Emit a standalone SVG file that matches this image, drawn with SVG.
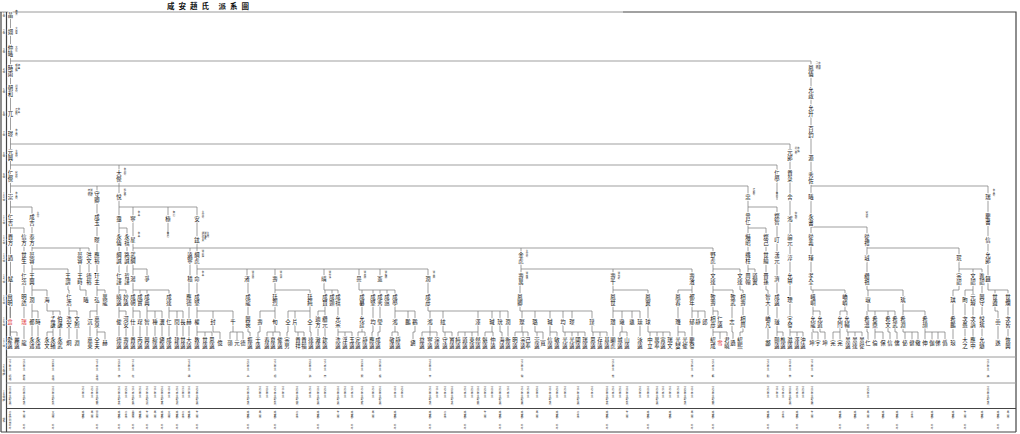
<svg xmlns="http://www.w3.org/2000/svg" width="1020" height="434" viewBox="0 0 1020 434">
<style>
text{font-family:"Noto Sans CJK TC","Noto Sans CJK SC",sans-serif}
.n{font-size:5.4px;writing-mode:vertical-rl;text-anchor:middle;fill:#111;letter-spacing:0.4px;stroke:#fff;stroke-width:1.5px;paint-order:stroke}
.r{fill:#e03030}
.a{font-size:2.4px;writing-mode:vertical-rl;fill:#333}
.g{font-size:2.8px;writing-mode:vertical-rl;text-orientation:upright;text-anchor:middle;fill:#333}
.c{font-size:2.6px;writing-mode:vertical-rl;fill:#333}
.l{fill:none;stroke:#777;stroke-width:0.7}
.f{fill:none;stroke:#444;stroke-width:1.2}
.h{fill:none;stroke:#9a9a9a;stroke-width:1}
.t{font-size:7.5px;font-weight:bold;fill:#111;letter-spacing:4px;text-anchor:middle}
</style>
<rect width="1020" height="434" fill="#fff"/>
<g opacity="0.999">
<text class="t" x="210" y="9">咸安趙氏 派系圖</text>
<g id="frame">
<path class="h" d="M0 12H623"/>
<path class="f" d="M623 12H1016V432M1 12V432M6.5 12V432M1 432H1016"/>
<path class="h" d="M6.5 357H1016M6.5 383H1016"/>
<path class="f" d="M6.5 408.5H1016" stroke="#888"/>
</g>
<g id="gen-labels">
<text class="g" x="3.8" y="15">1世</text><text class="g" x="3.8" y="32">2世</text><text class="g" x="3.8" y="51">3世</text><text class="g" x="3.8" y="71">4世</text><text class="g" x="3.8" y="91">5世</text><text class="g" x="3.8" y="114">6世</text><text class="g" x="3.8" y="134">7世</text><text class="g" x="3.8" y="155">8世</text><text class="g" x="3.8" y="176">9世</text><text class="g" x="3.8" y="197">10世</text><text class="g" x="3.8" y="220">11世</text><text class="g" x="3.8" y="240">12世</text><text class="g" x="3.8" y="258">13世</text><text class="g" x="3.8" y="279">14世</text><text class="g" x="3.8" y="300">15世</text><text class="g" x="3.8" y="322">16世</text><text class="g" x="3.8" y="343">17世</text>
<text class="g" x="3.8" y="370">22世諱</text><text class="g" x="3.8" y="396">19世諱</text><text class="g" x="3.8" y="420">世系</text>
</g>
<g id="connectors" class="l">
<path d="M10.5 13V343M10.5 61H811V279M10.5 144H790V279M10.5 165H777V200M10.5 186H748V279M811 186H988V279M811 227H867V279M867 248H959V279M959 269H982V279M973 269V279M748 207H777V279M748 228H766V279M748 269H755V279"/>
<path d="M119 165V279M10.5 207H32V279M10.5 228H24V279M97 186V279M119 207H197V279M133 207V279M168 207V236M119 228H127V279M32 248H89V279M80 248V279M133 248H713V279M190 248V279M521 248V279M32 269H68V279M133 269H147V279M197 269H428V279M247 269V279M275 269V279M324 269V279M359 269V279M380 269V279M521 269H692V279M613 269V279M713 269H740V279"/>
<path d="M10 279V300M24 279V300M32 279V300M32 290H47V300M68 279V290H69V300M80 279V290H86V300M97 279V300M97 290H105V300M119 279V300M119 290H126V300M133 279V300M133 290H169M140 290V300M147 290V300M169 290V300M189 279V300M197 279V300M248 279V300M275 279V300M275 290H310V300M324 279V290H338M325 290V300M332 290V300M338 290V300M359 279V290H395M362 290V300M373 290V300M380 290V300M387 290V300M395 290V300M428 279V300M520 279V300M613 279V300M613 290H648V300M692 279V300M678 290H692M678 290V300M713 279V300M713 290H733V300M740 279V290H743V300M766 279V290H768V300M777 279V300M790 279V300M811 279V290H845V300M813 290V300M867 279V290H903V300M868 290V300M959 279V290H953V300M973 279V300M965 290H973M965 290V300M982 279V300M988 279V290H1008V300M995 290V300"/>
<path d="M10 300V322M24 300V322M32 300V322M32 311H38V322M47 300V311H60V322M53 311V322M69 300V322M69 311H77V322M97 300V322M90 311H97M90 311V322M119 300V322M119 311H126V322M133 300V322M133 311H140V322M147 300V322M147 311H162V322M155 311V322M169 300V322M169 311H183V322M177 311V322M189 300V322M197 300V322M197 311H233V322M213 311V322M248 300V322M275 300V322M260 311H275M260 311V322M310 300V322M288 311H310M288 311V322M295 311V322M325 300V322M318 311H325M318 311V322M338 300V322M362 300V322M373 300V322M380 300V322M395 300V322M395 311H415V322M408 311V322M428 300V311H508V322M430 311V322M443 311V322M478 311V322M492 311V322M500 311V322M520 300V311H592V322M522 311V322M535 311V322M550 311V322M563 311V322M572 311V322M613 300V322M613 311H640V322M622 311V322M632 311V322M648 300V322M678 300V322M692 300V322M692 311H705V322M698 311V322M713 300V322M713 311H718V322M732 300V322M743 300V322M768 300V322M777 300V322M790 300V322M813 300V322M813 311H820V322M845 300V311M840 311H847M840 311V322M847 311V322M868 300V311H895V322M867 311V322M875 311V322M888 311V322M903 300V322M903 311H925V322M953 300V322M965 300V322M973 300V322M982 300V322M995 300V311H998V322M1008 300V322"/>
<path d="M10 322V343M10 332H17V343M24 322V343M32 322V343M38 322V343M53 322V343M47 332H53M47 332V343M60 322V343M69 322V343M77 322V343M90 322V343M97 322V343M97 332H105V343M119 322V343M126 322V343M133 322V343M140 322V343M147 322V343M155 322V343M162 322V343M169 322V343M177 322V343M183 322V343M189 322V343M197 322V343M197 332H212V343M205 332V343M213 322V332H220V343M233 322V332M230 332H243M230 332V343M237 332V343M243 332V343M248 322V332H250V343M260 322V332H258V343M275 322V332M267 332H280M267 332V343M273 332V343M280 332V343M288 322V332H287V343M295 322V332H304M298 332V343M304 332V343M310 322V332H311V343M318 322V343M325 322V343M338 322V343M338 332H352V343M345 332V343M362 322V332M358 332H365M358 332V343M365 332V343M373 322V332H372V343M380 322V332H378V343M395 322V332M392 332H398M392 332V343M398 332V343M415 322V332H413V343M430 322V343M422 332H437M422 332V343M437 332V343M443 322V332H452M445 332V343M452 332V343M478 322V343M458 332H478M458 332V343M465 332V343M472 332V343M492 322V332M485 332H493M485 332V343M493 332V343M500 322V332H502V343M508 322V343"/>
<path d="M522 322V332M515 332H528M515 332V343M523 332V343M528 332V343M535 322V332H543M537 332V343M543 332V343M550 322V343M550 332H557V343M563 322V332H585M565 332V343M572 332V343M578 332V343M585 332V343M592 322V332H607M593 332V343M600 332V343M607 332V343M613 322V343M622 322V332M620 332H627M620 332V343M627 332V343M640 322V343M648 322V332H670M650 332V343M657 332V343M663 332V343M670 332V343M678 322V343M678 332H685V343M692 322V343M713 322V343M713 332H727V343M720 332V343M732 322V332H733V343M743 322V332H740V343M768 322V343M777 322V343M777 332H783V343M790 322V343M790 332H803V343M797 332V343M813 322V332H818V343M812 332V343M820 322V332H825V343M840 322V343M833 332H840M833 332V343M847 322V332H862M848 332V343M855 332V343M862 332V343M867 322V332H868V343M875 322V343M875 332H883V343M888 322V332H890V343M895 322V332H897V343M903 322V332H918M905 332V343M912 332V343M918 332V343M925 322V343M925 332H945V343M932 332V343M938 332V343M953 322V343M965 322V343M973 322V343M982 322V343M998 322V343M1008 322V343"/>
</g>
<g id="nodes-upper">
<text class="n" x="10.5" y="15">晶</text><text class="n" x="10.5" y="32">翊</text><text class="n" x="10.5" y="51">仲曦</text><text class="n" x="10.5" y="71">時雨</text><text class="n" x="10.5" y="91">朝和</text><text class="n" x="10.5" y="114">兀</text><text class="n" x="10.5" y="134">璟</text><text class="n" x="10.5" y="155">元興</text><text class="n" x="10.5" y="176">仁傑</text><text class="n" x="10.5" y="197">崇</text><text class="n" x="10.5" y="220">仁吉</text><text class="n" x="10.5" y="240">貴方</text><text class="n" x="10.5" y="258">迺</text><text class="n" x="10.5" y="279">斌</text>
<text class="a" x="16.5" y="10">典書</text><text class="a" x="16.5" y="27">大將軍</text><text class="a" x="16.5" y="46">大匡</text><text class="a" x="16.5" y="64">都評議</text><text class="a" x="19" y="64">使事</text><text class="a" x="16.5" y="85">判書公</text><text class="a" x="16.5" y="108">正郞公</text><text class="a" x="19" y="108">參奉</text><text class="a" x="16.5" y="129">參奉公</text><text class="a" x="16.5" y="150">生員公</text><text class="a" x="16.5" y="171">察訪公</text><text class="a" x="16.5" y="192">參奉公</text>
<text class="n" x="811" y="71">鳳儀</text><text class="n" x="811" y="93">允政</text><text class="n" x="811" y="111">允升</text><text class="n" x="811" y="132">百鈞</text><text class="n" x="811" y="158">源</text><text class="n" x="811" y="178">秀佐</text><text class="n" x="811" y="197">曦</text><text class="n" x="811" y="220">永書</text><text class="n" x="811" y="240">從義</text><text class="n" x="811" y="258">瑾</text><text class="n" x="811" y="279">孝全</text>
<text class="a" x="817" y="62">司諫公</text><text class="a" x="819.5" y="62">字瑞卿</text>
<text class="n" x="790" y="155">元郞</text><text class="n" x="790" y="176">貴彔</text><text class="n" x="790" y="197">舍</text><text class="n" x="790" y="219">鴻</text><text class="n" x="790" y="240">論元</text><text class="n" x="790" y="258">淳</text><text class="n" x="790" y="279">允甲</text>
<text class="a" x="796" y="147">判官公</text><text class="a" x="798.5" y="147">參議</text><text class="a" x="796" y="212">僉知公</text>
<text class="n" x="777" y="176">仁學</text><text class="a" x="777" y="192">無后</text>
<text class="n" x="988" y="197">瑞</text><text class="n" x="988" y="219">慶書</text><text class="n" x="988" y="240">信</text><text class="n" x="988" y="258">允郞</text><text class="n" x="988" y="279">鐵</text><text class="a" x="994" y="189">參奉公</text>
<text class="a" x="867" y="211">察訪公</text><text class="n" x="867" y="240">從禮</text><text class="n" x="867" y="258">珬</text><text class="n" x="867" y="279">纘祖</text>
<text class="n" x="959" y="258">珉</text><text class="n" x="959" y="279">宗韶</text><text class="n" x="973" y="279">文韶</text><text class="n" x="982" y="279">進韶</text>
<text class="n" x="748" y="197">忠</text><text class="a" x="754" y="188">正郞公</text><text class="n" x="748" y="219">曾仁</text><text class="n" x="748" y="240">爀昭</text><text class="n" x="748" y="258">纖柱</text><text class="n" x="748" y="279">周翰</text><text class="n" x="755" y="279">道翼</text>
<text class="n" x="777" y="219">燦智</text><text class="n" x="777" y="240">叮</text><text class="n" x="777" y="258">漢元</text><text class="n" x="777" y="279">濟</text>
<text class="n" x="766" y="240">燦己</text><text class="n" x="766" y="258">世綸</text><text class="n" x="766" y="279">晋孫</text>
<text class="n" x="521" y="258">金虎</text><text class="a" x="527" y="250">主簿公</text><text class="n" x="521" y="279">壽萬</text><text class="a" x="527" y="272">號晩休</text><text class="n" x="613" y="279">壽千</text><text class="a" x="619" y="272">號竹軒</text><text class="n" x="692" y="279">壽濱</text><text class="n" x="713" y="258">野虎</text><text class="n" x="713" y="279">文達</text><text class="n" x="740" y="279">文達</text>
<text class="n" x="119" y="176">大傑</text><text class="a" x="125" y="168">參判公</text><text class="n" x="119" y="197">悅</text><text class="a" x="125" y="189">縣監公</text><text class="n" x="97" y="197">守卿</text><text class="a" x="89" y="189">府使公</text><text class="a" x="91.5" y="189">號梅軒</text>
<text class="n" x="32" y="220">成吉</text><text class="a" x="38" y="212">主簿</text><text class="n" x="97" y="220">成玉</text><text class="n" x="119" y="219">靄</text><text class="n" x="133" y="219">寧</text><text class="a" x="139" y="211">參奉</text><text class="n" x="168" y="219">極</text><text class="a" x="174" y="211">無后</text><text class="n" x="197" y="219">安</text><text class="a" x="203" y="211">主簿公</text>
<text class="n" x="24" y="240">信方</text><text class="n" x="32" y="240">泰方</text><text class="n" x="97" y="240">暻</text><text class="n" x="119" y="240">永儀</text><text class="n" x="127" y="240">永禧</text><text class="n" x="133" y="240">星</text><text class="a" x="139" y="232">參奉</text><text class="a" x="168" y="232">無后</text><text class="n" x="197" y="240">鉉</text><text class="a" x="203" y="232">通政大夫</text><text class="a" x="205.5" y="232">號龜巖</text><text class="a" x="208" y="232">生員</text>
<text class="n" x="24" y="258">世生</text><text class="n" x="32" y="258">蕊容</text><text class="n" x="80" y="258">蕊容</text><text class="n" x="89" y="258">洪文</text><text class="n" x="97" y="258">應裕</text><text class="n" x="119" y="258">綱誠</text><text class="n" x="127" y="258">路誠</text><text class="n" x="133" y="258">武綱</text><text class="n" x="190" y="258">遠寧</text><text class="n" x="197" y="258">綱虎</text><text class="a" x="203" y="250">號松庵</text>
<text class="n" x="24" y="279">仁洽</text><text class="n" x="32" y="279">王興</text><text class="n" x="68" y="279">王謂</text><text class="n" x="80" y="279">王畤</text><text class="n" x="89" y="279">德裕</text><text class="n" x="97" y="279">玕主</text><text class="n" x="119" y="279">仁謹</text><text class="n" x="127" y="279">哲謹</text><text class="n" x="133" y="279">湯</text><text class="n" x="147" y="279">爭</text><text class="n" x="190" y="279">積</text><text class="n" x="197" y="279">命</text><text class="a" x="203" y="271">參奉</text><text class="n" x="247" y="279">渚</text><text class="a" x="253" y="271">號月窩</text>
<text class="n" x="275" y="279">壽</text><text class="a" x="281" y="271">號南湖</text><text class="n" x="324" y="279">晴</text><text class="a" x="330" y="271">號竹溪</text><text class="n" x="359" y="279">曼</text><text class="a" x="365" y="271">號石隱</text><text class="n" x="380" y="279">憲</text><text class="a" x="386" y="271">號梅隱</text><text class="n" x="428" y="279">潤</text><text class="a" x="434" y="271">號東岡</text>
</g>
<g id="nodes-g15">
<text class="n" x="10" y="300">尙明</text><text class="n" x="24" y="300">明誥</text><text class="n" x="32" y="300">潤</text><text class="n" x="47" y="300">海</text><text class="n" x="69" y="300">仁浩</text><text class="n" x="86" y="300">曦</text><text class="n" x="97" y="300">弘</text><text class="n" x="105" y="300">萬龍</text><text class="n" x="119" y="300">曉遠</text><text class="n" x="126" y="300">妙遠</text><text class="n" x="133" y="300">成朝</text><text class="n" x="140" y="300">成實</text><text class="n" x="147" y="300">成典</text><text class="n" x="169" y="300">成達</text><text class="n" x="189" y="300">應德</text><text class="n" x="197" y="300">成堅</text><text class="n" x="248" y="300">成龍</text>
<text class="n" x="275" y="300">廷烈</text><text class="n" x="310" y="300">廷純</text><text class="n" x="325" y="300">成賢</text><text class="n" x="332" y="300">成顥</text><text class="n" x="338" y="300">成禧</text><text class="n" x="362" y="300">成纂</text><text class="n" x="373" y="300">成堅</text><text class="n" x="380" y="300">成秀</text><text class="n" x="387" y="300">成慤</text><text class="n" x="395" y="300">成學</text><text class="n" x="428" y="300">成彦</text>
<text class="n" x="520" y="300">鳳卿</text><text class="n" x="613" y="300">鳳世</text><text class="n" x="648" y="300">鳳翼</text><text class="n" x="678" y="300">鳳春</text><text class="n" x="692" y="300">都年</text><text class="n" x="713" y="300">致壽</text><text class="n" x="733" y="300">致武</text><text class="n" x="743" y="300">相壽</text>
<text class="n" x="768" y="300">智大</text><text class="n" x="777" y="300">成遠</text><text class="n" x="790" y="300">瑮</text><text class="n" x="813" y="300">峨峒</text><text class="n" x="845" y="300">嶠嶙</text><text class="n" x="868" y="300">琡</text><text class="n" x="903" y="300">瑀</text><text class="n" x="953" y="300">琪</text><text class="n" x="965" y="300">昫</text><text class="n" x="973" y="300">元璿</text><text class="n" x="982" y="300">興守</text><text class="n" x="995" y="300">世遵</text><text class="n" x="1008" y="300">世爛</text>
</g>
<g id="nodes-g16">
<text class="n r" x="10" y="322">翕</text><text class="n r" x="24" y="322">瑞</text><text class="n" x="32" y="322">都</text><text class="n" x="38" y="322">時</text><text class="n" x="53" y="322">孟謙</text><text class="n" x="60" y="322">伯謙</text><text class="n" x="69" y="322">浩文</text><text class="n" x="77" y="322">文煦</text><text class="n" x="90" y="322">沉</text><text class="n" x="97" y="322">嘉泉</text><text class="n" x="119" y="322">俊</text><text class="n" x="126" y="322">河安</text><text class="n" x="133" y="322">仕</text><text class="n" x="140" y="322">珵</text><text class="n" x="147" y="322">智</text><text class="n" x="155" y="322">種</text><text class="n" x="162" y="322">瀷</text><text class="n" x="169" y="322">仁</text><text class="n" x="177" y="322">閏</text><text class="n" x="183" y="322">長</text><text class="n" x="189" y="322">赫</text><text class="n" x="197" y="322">權</text><text class="n" x="213" y="322">封</text><text class="n" x="233" y="322">千</text><text class="n" x="248" y="322">興我</text>
<text class="n" x="260" y="322">壽</text><text class="n" x="275" y="322">旬</text><text class="n" x="288" y="322">仝</text><text class="n" x="295" y="322">片</text><text class="n" x="310" y="322">仝</text><text class="n" x="318" y="322">迪方</text><text class="n" x="325" y="322">纘元</text><text class="n" x="338" y="322">允宗</text><text class="n" x="362" y="322">允詮</text><text class="n" x="373" y="322">均</text><text class="n" x="380" y="322">瑩</text><text class="n" x="395" y="322">鴻</text><text class="n" x="408" y="322">鵬</text><text class="n" x="415" y="322">鸐</text><text class="n" x="430" y="322">鴻</text><text class="n" x="443" y="322">絃</text><text class="n" x="478" y="322">澤</text><text class="n" x="492" y="322">瑊</text><text class="n" x="500" y="322">玧</text><text class="n" x="508" y="322">潤</text>
<text class="n" x="522" y="322">璨</text><text class="n" x="535" y="322">璐</text><text class="n" x="550" y="322">瑊</text><text class="n" x="563" y="322">均</text><text class="n" x="572" y="322">璟</text><text class="n" x="592" y="322">璞</text><text class="n" x="613" y="322">瓚</text><text class="n" x="622" y="322">璥</text><text class="n" x="632" y="322">璡</text><text class="n" x="640" y="322">璪</text><text class="n" x="648" y="322">球</text><text class="n" x="678" y="322">璣</text><text class="n" x="692" y="322">郁</text><text class="n" x="698" y="322">靜</text><text class="n" x="705" y="322">郎</text><text class="n" x="713" y="322">相彦</text><text class="n" x="720" y="322">仁遠</text><text class="n" x="732" y="322">志</text><text class="n" x="743" y="322">相周</text>
<text class="n" x="768" y="322">嶠凡</text><text class="n" x="777" y="322">璲</text><text class="n" x="790" y="322">宇發</text><text class="n" x="813" y="322">允龍</text><text class="n" x="820" y="322">允道</text><text class="n" x="840" y="322">允門</text><text class="n" x="847" y="322">允輔</text><text class="n" x="867" y="322">希溫</text><text class="n" x="875" y="322">希鼎</text><text class="n" x="888" y="322">希文</text><text class="n" x="895" y="322">希武</text><text class="n" x="903" y="322">希淵</text><text class="n" x="925" y="322">希頡</text><text class="n" x="953" y="322">希鵬</text><text class="n" x="965" y="322">次愚</text><text class="n" x="973" y="322">次訥</text><text class="n" x="982" y="322">悅瑀</text><text class="n" x="998" y="322">嵒</text><text class="n" x="1008" y="322">次皆</text>
</g>
<g id="nodes-g17">
<text class="n" x="10" y="343">愛遠</text><text class="n" x="17" y="343">麗遠</text><text class="n" x="24" y="343">龍</text><text class="n" x="32" y="343">永述</text><text class="n" x="38" y="343">永述</text><text class="n" x="47" y="343">永文</text><text class="n" x="53" y="343">永緒</text><text class="n" x="60" y="343">永武</text><text class="n" x="69" y="343">炯</text><text class="n" x="77" y="343">淵</text><text class="n" x="90" y="343">嘉東</text><text class="n" x="97" y="343">仝夫</text><text class="n" x="105" y="343">赫</text><text class="n" x="119" y="343">德遠</text><text class="n" x="126" y="343">壽遠</text><text class="n" x="133" y="343">貴遠</text><text class="n" x="140" y="343">丙遠</text><text class="n" x="147" y="343">興遠</text><text class="n" x="155" y="343">緯遠</text><text class="n" x="162" y="343">鎭遠</text><text class="n" x="169" y="343">成遠</text><text class="n" x="177" y="343">建遠</text><text class="n" x="183" y="343">世遠</text><text class="n" x="189" y="343">大遠</text><text class="n" x="197" y="343">教遠</text><text class="n" x="205" y="343">世遠</text><text class="n" x="212" y="343">思遠</text><text class="n" x="220" y="343">億</text><text class="n" x="230" y="343">嶺</text><text class="n" x="237" y="343">元</text><text class="n" x="243" y="343">德</text><text class="n" x="250" y="343">振遠</text>
<text class="n" x="258" y="343">壬遠</text><text class="n" x="267" y="343">春遠</text><text class="n" x="273" y="343">夏遠</text><text class="n" x="280" y="343">俊遠</text><text class="n" x="287" y="343">宗男</text><text class="n" x="298" y="343">貴祥</text><text class="n" x="304" y="343">貴福</text><text class="n" x="311" y="343">達遠</text><text class="n" x="318" y="343">澈遠</text><text class="n" x="325" y="343">欽遠</text><text class="n" x="338" y="343">洗遠</text><text class="n" x="345" y="343">浮遠</text><text class="n" x="352" y="343">玉遠</text><text class="n" x="358" y="343">定遠</text><text class="n" x="365" y="343">靜遠</text><text class="n" x="372" y="343">應遠</text><text class="n" x="378" y="343">成遠</text><text class="n" x="392" y="343">敬遠</text><text class="n" x="398" y="343">靜遠</text><text class="n" x="413" y="343">鎭</text><text class="n" x="422" y="343">益遠</text><text class="n" x="430" y="343">寧遠</text><text class="n" x="437" y="343">淙遠</text><text class="n" x="445" y="343">守遠</text><text class="n" x="452" y="343">寶遠</text><text class="n" x="458" y="343">純遠</text><text class="n" x="465" y="343">道遠</text><text class="n" x="472" y="343">東遠</text><text class="n" x="478" y="343">然遠</text><text class="n" x="485" y="343">魁遠</text><text class="n" x="493" y="343">仲遠</text><text class="n" x="502" y="343">海遠</text><text class="n" x="508" y="343">衡遠</text>
<text class="n" x="515" y="343">明遠</text><text class="n" x="523" y="343">宗遠</text><text class="n" x="528" y="343">己奉</text><text class="n" x="537" y="343">崇遠</text><text class="n" x="543" y="343">寬</text><text class="n" x="550" y="343">信遠</text><text class="n" x="557" y="343">敏遠</text><text class="n" x="565" y="343">光遠</text><text class="n" x="572" y="343">光遠</text><text class="n" x="578" y="343">國遠</text><text class="n" x="585" y="343">瑞遠</text><text class="n" x="593" y="343">思遠</text><text class="n" x="600" y="343">存遠</text><text class="n" x="607" y="343">基遠</text><text class="n" x="613" y="343">顯虎</text><text class="n" x="620" y="343">城遠</text><text class="n" x="627" y="343">山遠</text><text class="n" x="640" y="343">泳遠</text><text class="n" x="650" y="343">中立</text><text class="n" x="657" y="343">萬奉</text><text class="n" x="663" y="343">寅遠</text><text class="n" x="670" y="343">瑞文</text><text class="n" x="678" y="343">光燮</text><text class="n" x="685" y="343">光俊</text><text class="n" x="692" y="343">慶發</text><text class="n" x="713" y="343">紹成</text><text class="n r" x="720" y="343">雪</text><text class="n" x="727" y="343">君曉</text><text class="n" x="733" y="343">遜</text><text class="n" x="740" y="343">紹熙</text>
<text class="n" x="768" y="343">酃</text><text class="n" x="777" y="343">頤遠</text><text class="n" x="783" y="343">樵遠</text><text class="n" x="790" y="343">滋遠</text><text class="n" x="797" y="343">澤遠</text><text class="n" x="803" y="343">沖遠</text><text class="n" x="812" y="343">坤</text><text class="n" x="818" y="343">宇</text><text class="n" x="825" y="343">坤</text><text class="n" x="833" y="343">完</text><text class="n" x="840" y="343">完</text><text class="n" x="848" y="343">景遠</text><text class="n" x="855" y="343">景達</text><text class="n" x="862" y="343">景從</text><text class="n" x="868" y="343">仁</text><text class="n" x="875" y="343">倫</text><text class="n" x="883" y="343">保</text><text class="n" x="890" y="343">信</text><text class="n" x="897" y="343">儒</text><text class="n" x="905" y="343">佖</text><text class="n" x="912" y="343">健</text><text class="n" x="918" y="343">儆</text><text class="n" x="925" y="343">伸</text><text class="n" x="932" y="343">伽</text><text class="n" x="938" y="343">俤</text><text class="n" x="945" y="343">僞</text><text class="n" x="953" y="343">琅</text><text class="n" x="965" y="343">大之</text><text class="n" x="973" y="343">應中</text><text class="n" x="982" y="343">允燧</text><text class="n" x="998" y="343">遂</text><text class="n" x="1008" y="343">恢興</text>
</g>
<g id="table">
<text class="c" x="10" y="359">1946年生</text><text class="c" x="24" y="359">1951年生</text><text class="c" x="53" y="359">1938年生</text><text class="c" x="97" y="359">1944年生</text><text class="c" x="119" y="359">1955年生</text><text class="c" x="133" y="359">1960年生</text><text class="c" x="189" y="359">1949年生</text><text class="c" x="248" y="359">1952年生</text><text class="c" x="275" y="359">1941年生</text><text class="c" x="310" y="359">1958年生</text><text class="c" x="325" y="359">1947年生</text><text class="c" x="362" y="359">1939年生</text><text class="c" x="380" y="359">1953年生</text><text class="c" x="430" y="359">1948年生</text><text class="c" x="522" y="359">1943年生</text><text class="c" x="613" y="359">1950年生</text><text class="c" x="692" y="359">1945年生</text><text class="c" x="713" y="359">1957年生</text><text class="c" x="768" y="359">1942年生</text><text class="c" x="790" y="359">1954年生</text><text class="c" x="812" y="359">1940年生</text><text class="c" x="988" y="359">1956年生</text>
<text class="c" x="10" y="375">炳遠</text><text class="c" x="24" y="375">晗希</text><text class="c" x="53" y="375">東遠</text><text class="c" x="97" y="375">承遠</text><text class="c" x="119" y="375">德</text><text class="c" x="133" y="375">在</text><text class="c" x="189" y="375">錫</text><text class="c" x="248" y="375">基</text><text class="c" x="275" y="375">相</text><text class="c" x="310" y="375">鎬</text><text class="c" x="325" y="375">南</text><text class="c" x="362" y="375">熙</text><text class="c" x="380" y="375">根</text><text class="c" x="430" y="375">泰</text><text class="c" x="522" y="375">鎭</text><text class="c" x="613" y="375">榮</text><text class="c" x="692" y="375">洙</text><text class="c" x="713" y="375">範</text><text class="c" x="768" y="375">烈</text><text class="c" x="790" y="375">植</text><text class="c" x="812" y="375">奎</text><text class="c" x="988" y="375">煥</text>
<text class="c" x="10" y="386">1919年生</text><text class="c" x="24" y="386">1922年生</text><text class="c" x="53" y="386">1915年生</text><text class="c" x="83" y="386">1920年生</text><text class="c" x="92" y="386">1924年生</text><text class="c" x="97" y="386">1918年生</text><text class="c" x="119" y="386">1921年生</text><text class="c" x="126" y="386">1925年生</text><text class="c" x="133" y="386">1917年生</text><text class="c" x="140" y="386">1923年生</text><text class="c" x="147" y="386">1926年生</text><text class="c" x="155" y="386">1916年生</text><text class="c" x="162" y="386">1928年生</text><text class="c" x="169" y="386">1914年生</text><text class="c" x="177" y="386">1927年生</text><text class="c" x="183" y="386">1930年生</text><text class="c" x="189" y="386">1913年生</text><text class="c" x="197" y="386">1929年生</text><text class="c" x="248" y="386">1920年生</text><text class="c" x="260" y="386">1921年生</text><text class="c" x="267" y="386">1918年生</text><text class="c" x="275" y="386">1924年生</text><text class="c" x="283" y="386">1916年生</text><text class="c" x="297" y="386">1922年生</text><text class="c" x="310" y="386">1927年生</text><text class="c" x="318" y="386">1915年生</text><text class="c" x="325" y="386">1925年生</text><text class="c" x="338" y="386">1919年生</text><text class="c" x="345" y="386">1923年生</text><text class="c" x="352" y="386">1917年生</text><text class="c" x="362" y="386">1926年生</text><text class="c" x="373" y="386">1920年生</text><text class="c" x="380" y="386">1928年生</text><text class="c" x="395" y="386">1914年生</text><text class="c" x="402" y="386">1929年生</text><text class="c" x="430" y="386">1921年生</text><text class="c" x="437" y="386">1916年生</text><text class="c" x="445" y="386">1924年生</text><text class="c" x="452" y="386">1918年生</text><text class="c" x="465" y="386">1927年生</text><text class="c" x="472" y="386">1922年生</text><text class="c" x="478" y="386">1915年生</text><text class="c" x="485" y="386">1925年生</text><text class="c" x="492" y="386">1919年生</text><text class="c" x="500" y="386">1923年生</text><text class="c" x="508" y="386">1917年生</text>
<text class="c" x="522" y="386">1926年生</text><text class="c" x="528" y="386">1920年生</text><text class="c" x="537" y="386">1928年生</text><text class="c" x="550" y="386">1914年生</text><text class="c" x="557" y="386">1929年生</text><text class="c" x="565" y="386">1921年生</text><text class="c" x="578" y="386">1916年生</text><text class="c" x="592" y="386">1924年生</text><text class="c" x="607" y="386">1918年生</text><text class="c" x="613" y="386">1927年生</text><text class="c" x="620" y="386">1922年生</text><text class="c" x="627" y="386">1915年生</text><text class="c" x="640" y="386">1925年生</text><text class="c" x="648" y="386">1919年生</text><text class="c" x="657" y="386">1923年生</text><text class="c" x="663" y="386">1917年生</text><text class="c" x="670" y="386">1926年生</text><text class="c" x="678" y="386">1920年生</text><text class="c" x="685" y="386">1928年生</text><text class="c" x="692" y="386">1914年生</text><text class="c" x="713" y="386">1929年生</text><text class="c" x="768" y="386">1921年生</text><text class="c" x="777" y="386">1916年生</text><text class="c" x="783" y="386">1924年生</text><text class="c" x="790" y="386">1918年生</text><text class="c" x="797" y="386">1927年生</text><text class="c" x="803" y="386">1922年生</text><text class="c" x="812" y="386">1915年生</text><text class="c" x="868" y="386">1925年生</text><text class="c" x="988" y="386">1919年生</text>
<text class="c" x="10" y="398">配金氏</text><text class="c" x="24" y="398">配李氏</text><text class="c" x="53" y="398">配朴氏</text><text class="c" x="97" y="398">配鄭氏</text><text class="c" x="119" y="398">配姜氏</text><text class="c" x="133" y="398">配崔氏</text><text class="c" x="147" y="398">配河氏</text><text class="c" x="162" y="398">配安氏</text><text class="c" x="177" y="398">配尹氏</text><text class="c" x="197" y="398">配金氏</text><text class="c" x="248" y="398">配李氏</text><text class="c" x="275" y="398">配朴氏</text><text class="c" x="297" y="398">配柳氏</text><text class="c" x="318" y="398">配金氏</text><text class="c" x="338" y="398">配裵氏</text><text class="c" x="362" y="398">配權氏</text><text class="c" x="380" y="398">配金氏</text><text class="c" x="430" y="398">配李氏</text><text class="c" x="452" y="398">配文氏</text><text class="c" x="478" y="398">配許氏</text><text class="c" x="500" y="398">配金氏</text><text class="c" x="522" y="398">配曺氏</text><text class="c" x="550" y="398">配李氏</text><text class="c" x="578" y="398">配金氏</text><text class="c" x="607" y="398">配姜氏</text><text class="c" x="627" y="398">配朴氏</text><text class="c" x="657" y="398">配金氏</text><text class="c" x="685" y="398">配李氏</text><text class="c" x="713" y="398">配鄭氏</text><text class="c" x="790" y="398">配金氏</text><text class="c" x="812" y="398">配吳氏</text><text class="c" x="988" y="398">配李氏</text>
<text class="c" x="10" y="411">서울特別市</text><text class="c" x="24" y="411">釜山市</text><text class="c" x="53" y="411">大邱市</text><text class="c" x="83" y="411">咸安郡</text><text class="c" x="92" y="411">馬山市</text><text class="c" x="97" y="411">晉州市</text><text class="c" x="119" y="411">咸安郡</text><text class="c" x="126" y="411">서울市</text><text class="c" x="133" y="411">昌原市</text><text class="c" x="140" y="411">咸安郡</text><text class="c" x="147" y="411">釜山市</text><text class="c" x="155" y="411">馬山市</text><text class="c" x="162" y="411">咸安郡</text><text class="c" x="169" y="411">大邱市</text><text class="c" x="177" y="411">咸安郡</text><text class="c" x="183" y="411">서울市</text><text class="c" x="189" y="411">咸安郡</text><text class="c" x="197" y="411">釜山市</text><text class="c" x="248" y="411">咸安郡</text><text class="c" x="260" y="411">馬山市</text><text class="c" x="275" y="411">咸安郡</text><text class="c" x="297" y="411">서울市</text><text class="c" x="318" y="411">咸安郡</text><text class="c" x="338" y="411">釜山市</text><text class="c" x="352" y="411">咸安郡</text><text class="c" x="373" y="411">馬山市</text><text class="c" x="395" y="411">咸安郡</text><text class="c" x="430" y="411">咸安郡</text><text class="c" x="445" y="411">서울市</text><text class="c" x="465" y="411">咸安郡</text><text class="c" x="485" y="411">釜山市</text><text class="c" x="500" y="411">咸安郡</text>
<text class="c" x="522" y="411">咸安郡</text><text class="c" x="537" y="411">馬山市</text><text class="c" x="557" y="411">咸安郡</text><text class="c" x="578" y="411">서울市</text><text class="c" x="607" y="411">咸安郡</text><text class="c" x="627" y="411">釜山市</text><text class="c" x="648" y="411">咸安郡</text><text class="c" x="670" y="411">咸安郡</text><text class="c" x="692" y="411">馬山市</text><text class="c" x="713" y="411">咸安郡</text><text class="c" x="768" y="411">咸安郡</text><text class="c" x="783" y="411">서울市</text><text class="c" x="797" y="411">咸安郡</text><text class="c" x="812" y="411">釜山市</text><text class="c" x="840" y="411">咸安郡</text><text class="c" x="855" y="411">咸安郡</text><text class="c" x="868" y="411">馬山市</text><text class="c" x="883" y="411">咸安郡</text><text class="c" x="897" y="411">咸安郡</text><text class="c" x="912" y="411">서울市</text><text class="c" x="932" y="411">咸安郡</text><text class="c" x="953" y="411">咸安郡</text><text class="c" x="965" y="411">釜山市</text><text class="c" x="982" y="411">咸安郡</text><text class="c" x="998" y="411">咸安郡</text><text class="c" x="1008" y="411">馬山市</text>
<text class="c" x="10" y="424">이하</text><text class="c" x="24" y="424">이하</text><text class="c" x="53" y="424">이하</text><text class="c" x="97" y="424">이하</text><text class="c" x="119" y="424">이하</text><text class="c" x="133" y="424">이하</text><text class="c" x="147" y="424">이하</text><text class="c" x="162" y="424">이하</text><text class="c" x="177" y="424">이하</text><text class="c" x="197" y="424">이하</text><text class="c" x="248" y="424">이하</text><text class="c" x="275" y="424">이하</text><text class="c" x="318" y="424">이하</text><text class="c" x="352" y="424">이하</text><text class="c" x="395" y="424">이하</text><text class="c" x="430" y="424">이하</text><text class="c" x="465" y="424">이하</text><text class="c" x="500" y="424">이하</text><text class="c" x="522" y="424">이하</text><text class="c" x="557" y="424">이하</text><text class="c" x="607" y="424">이하</text><text class="c" x="648" y="424">이하</text><text class="c" x="692" y="424">이하</text><text class="c" x="713" y="424">이하</text><text class="c" x="768" y="424">이하</text><text class="c" x="797" y="424">이하</text><text class="c" x="840" y="424">이하</text><text class="c" x="868" y="424">이하</text><text class="c" x="897" y="424">이하</text><text class="c" x="932" y="424">이하</text><text class="c" x="965" y="424">이하</text><text class="c" x="998" y="424">이하</text>
</g>
</g>
</svg>
